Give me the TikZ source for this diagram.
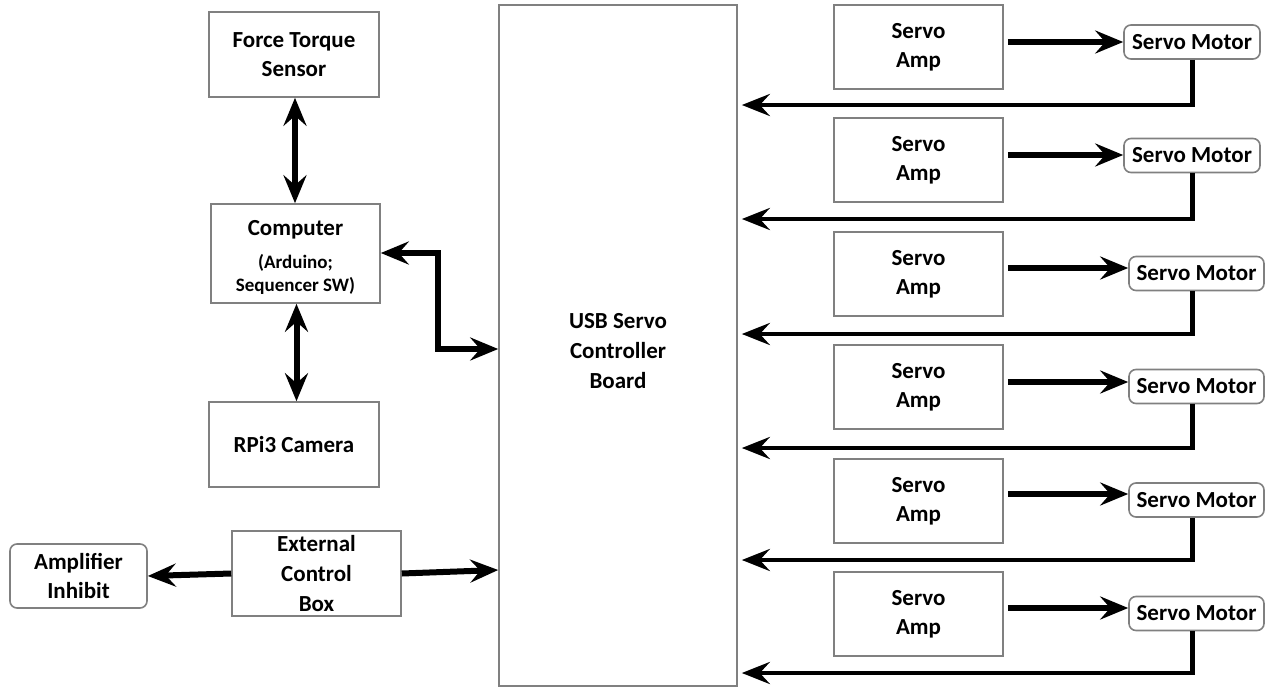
\documentclass[tikz,border=0pt]{standalone}
\usepackage{fontspec}
\setmainfont{Carlito}
\usetikzlibrary{arrows.meta,calc}
\begin{document}
\begin{tikzpicture}[x=1pt,y=-1pt,
  txt/.style={align=center,font=\fontsize{23}{29}\selectfont\bfseries},
  box/.style={txt,draw=black!50,line width=1.6pt,fill=white,inner sep=0pt},
  rbox/.style={box,rounded corners=7pt},
  big/.style={line width=6pt,-{Stealth[length=28pt,width=23pt,inset=10pt]}},
  bigboth/.style={line width=6pt,{Stealth[length=28pt,width=23pt,inset=10pt]}-{Stealth[length=28pt,width=23pt,inset=10pt]}},
  fb/.style={line width=4.5pt,-{Stealth[length=28pt,width=22pt,inset=10pt]}}
]
\useasboundingbox (0,0) rectangle (1266,693);

\node[box,minimum width=170pt,minimum height=85pt] (fts) at (294,54.5) {Force Torque\\Sensor};
\node[box,minimum width=169pt,minimum height=99pt,
  label={[txt,yshift=-6pt]center:Computer\\[12pt]\fontsize{19}{23}\selectfont\begin{tabular}{@{}c@{}}(Arduino;\\Sequencer SW)\end{tabular}}] (comp) at (295.5,253.5) {};
\node[box,minimum width=170pt,minimum height=85pt] (rpi) at (294,444.5) {RPi3 Camera};
\node[box,minimum width=238pt,minimum height=681pt,
  label={[txt,font=\fontsize{23}{30}\selectfont\bfseries,yshift=-6pt]center:USB Servo\\Controller\\Board}] (usb) at (618,345.5) {};
\node[box,minimum width=169pt,minimum height=85pt,font=\fontsize{23}{30}\selectfont\bfseries] (ecb) at (316.5,573.5) {External\\Control\\Box};
\node[rbox,minimum width=137pt,minimum height=64pt] (ai) at (78.5,576) {Amplifier\\Inhibit};

% servo rows: amp centre y, motor centre x, motor width, motor centre y, arrow y, feedback y
\foreach \i/\ay/\mx/\mw/\my/\arry/\fy in {
  1/47/1192/136/42/42/105,
  2/160/1192/136/155.5/155/219,
  3/274/1196.5/135/273.5/268/334,
  4/387/1196.5/135/386.5/382/448,
  5/501/1196.5/135/500/494/560,
  6/614/1196.5/135/613.5/608/673}{
  \node[box,minimum width=169pt,minimum height=84pt] (a\i) at (918.5,\ay) {Servo\\Amp};
  \node[rbox,minimum width=\mw pt,minimum height=34pt] (m\i) at (\mx,\my) {Servo Motor};
  \coordinate (ar\i) at (0,\arry);
  \coordinate (fv\i) at (1192.5,0);
  \coordinate (fh\i) at (0,\fy);
  \draw[big] ([xshift=4pt]a\i.east |- ar\i) -- (m\i.west |- ar\i);
  \draw[fb] (m\i.south -| fv\i) -- (fv\i |- fh\i) -- ([xshift=4pt]usb.east |- fh\i);
}

\coordinate (cu) at (0,349);
\coordinate (cc) at (0,253);
\coordinate (cv) at (438,0);
\draw[bigboth] (comp.east |- cc) -- (cv |- cc) -- (cv |- cu) -- (usb.west |- cu);
\draw[bigboth] ([xshift=1pt]fts.south) -- ([xshift=1pt]fts.south |- comp.north);
\draw[bigboth] ([xshift=1pt]comp.south) -- ([xshift=1pt]comp.south |- rpi.north);
\draw[big] (ecb.west) -- (ai.east);
\coordinate (eu) at (0,570);
\draw[big] (ecb.east) -- (usb.west |- eu);
\end{tikzpicture}
\end{document}
